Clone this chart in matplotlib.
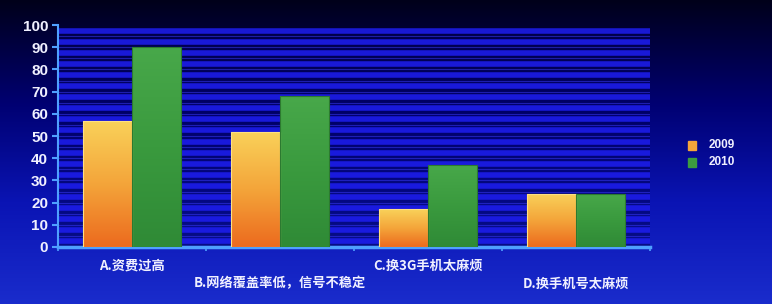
import numpy as np
import matplotlib.pyplot as plt
from matplotlib.colors import LinearSegmentedColormap

plt.rcParams['font.family'] = ['Noto Sans CJK SC', 'DejaVu Sans']

# Data
categories = ["A.资费过高", "B.网络覆盖率低，信号不稳定", "C.换3G手机太麻烦", "D.换手机号太麻烦"]
years = ["2009", "2010"]
values_2009 = [57, 52, 17, 24]
values_2010 = [90, 68, 37, 24]

fig = plt.figure(figsize=(7.72, 3.04), dpi=100)

# background gradient: dark navy at top -> bright blue at bottom
bg = fig.add_axes([0, 0, 1, 1], zorder=-10)
grad = np.linspace(0, 1, 256).reshape(-1, 1)
bg_cmap = LinearSegmentedColormap.from_list("bg", ["#00001a", "#000070", "#0a14b4", "#1a2ccc"])
bg.imshow(grad, aspect="auto", cmap=bg_cmap, extent=[0, 1, 0, 1], origin="upper")
bg.axis("off")

ax = fig.add_axes([0.075, 0.1875, 0.767, 0.73])
ax.set_facecolor("none")

# darker plot area with striped horizontal bands
ax.axhspan(0, 97, color="#00005a", alpha=0.55, lw=0, zorder=0)
for yv in np.arange(2.5, 100, 5):
    ax.axhline(yv, color="#1e1ef0", lw=4.0, alpha=0.85, zorder=0)
for yv in np.arange(5, 100, 5):
    ax.axhline(yv, color="#3a3aff", lw=0.8, alpha=0.5, zorder=0)

x = np.arange(len(categories)) + 0.5
w = 0.33

orange_cmap = LinearSegmentedColormap.from_list("or", ["#f9d25a", "#f4a53a", "#ec6a1e"])
green_cmap = LinearSegmentedColormap.from_list("gr", ["#48a84a", "#3a9a3e", "#2f8a36"])

bars09 = ax.bar(x - w / 2, values_2009, w, color="#f3a03a", zorder=2)
bars10 = ax.bar(x + w / 2, values_2010, w, color="#3c9c40", zorder=2)

for bars, cmap in [(bars09, orange_cmap), (bars10, green_cmap)]:
    for b in bars:
        x0, y0 = b.get_x(), b.get_y()
        x1, y1 = x0 + b.get_width(), y0 + b.get_height()
        im = ax.imshow(grad, aspect="auto", cmap=cmap, extent=[x0, x1, y0, y1],
                       origin="upper", zorder=3)
        im.set_clip_path(b)
        b.set_facecolor("none")
        b.set_edgecolor("#ffe080" if cmap is orange_cmap else "#2c7a30")
        b.set_linewidth(0.8)
        b.set_zorder(4)

ax.set_xlim(0, 4)
ax.set_ylim(0, 100)

# axes styling
for s in ["top", "right"]:
    ax.spines[s].set_visible(False)
ax.spines["left"].set_color("#4fa0ff")
ax.spines["bottom"].set_color("#4fa0ff")
ax.spines["left"].set_linewidth(1.5)
ax.spines["bottom"].set_linewidth(2.5)

ax.set_yticks(range(0, 101, 10))
ax.tick_params(axis="y", colors="#4fa0ff", labelcolor="#f0f0ff", labelsize=11,
               length=4, width=1.5, pad=3)
for lbl in ax.get_yticklabels():
    lbl.set_fontweight("bold")
    lbl.set_family(["Liberation Sans", "DejaVu Sans"])

ax.set_xticks(range(0, 5))
ax.set_xticklabels([])
ax.tick_params(axis="x", colors="#4fa0ff", length=3, width=1.2)

# staggered category labels
for i, (xc, name) in enumerate(zip(x, categories)):
    yoff = -0.085 if i % 2 == 0 else -0.165
    ax.text(xc, yoff, name, transform=ax.get_xaxis_transform(), ha="center", va="center",
            color="#f0f0ff", fontsize=9.5, fontweight="bold", clip_on=False)

# legend
for name, col, yy in [(years[0], "#f4a53a", 0.523), (years[1], "#3c9c40", 0.467)]:
    fig.patches.append(plt.Rectangle((0.891, yy - 0.016), 0.011, 0.03, color=col,
                                     transform=fig.transFigure, figure=fig))
    fig.text(0.918, yy, name, color="#f0f0ff", fontsize=8.5, fontweight="bold",
             va="center", ha="left", family=["Liberation Sans", "DejaVu Sans"])

fig.savefig("out.png", dpi=100)
